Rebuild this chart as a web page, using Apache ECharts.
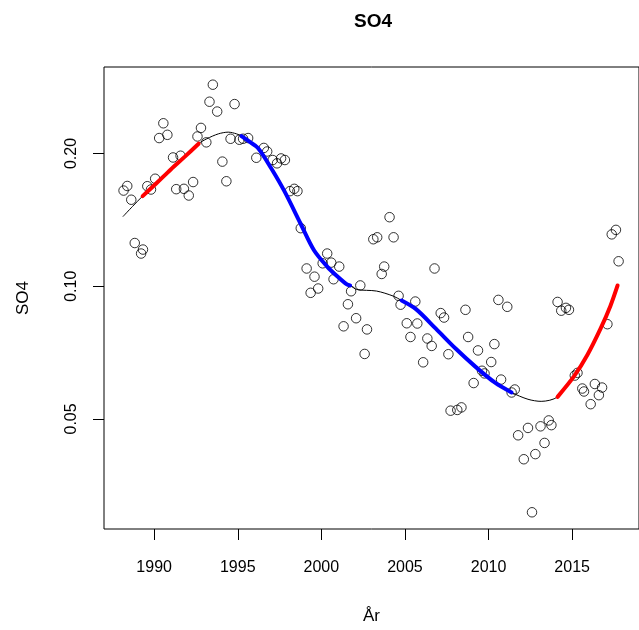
<!DOCTYPE html>
<html>
<head>
<meta charset="utf-8">
<script src="https://cdn.jsdelivr.net/npm/echarts@6/dist/echarts.min.js"></script>
<style>
html,body{margin:0;padding:0;background:#fff;}
#chart{width:639px;height:630px;}
</style>
</head>
<body>
<div id="chart"></div>
<script>
// Observations (year, SO4)
const years = [1988.17,1988.39,1988.63,1988.84,1989.22,1989.33,1989.59,1989.81,1990.06,1990.30,
1990.55,1990.79,1991.13,1991.32,1991.58,1991.78,1992.07,1992.33,1992.59,1992.80,
1993.12,1993.31,1993.51,1993.77,1994.08,1994.32,1994.57,1994.81,1995.10,1995.32,
1995.62,1996.11,1996.56,1996.76,1997.09,1997.35,1997.59,1997.82,1998.12,1998.38,
1998.57,1998.77,1999.12,1999.36,1999.59,1999.81,2000.08,2000.35,2000.59,2000.73,
2001.07,2001.33,2001.59,2001.78,2002.08,2002.33,2002.59,2002.73,2003.11,2003.34,
2003.61,2003.76,2004.08,2004.32,2004.62,2004.74,2005.11,2005.33,2005.62,2005.74,
2006.09,2006.34,2006.60,2006.77,2007.14,2007.34,2007.60,2007.73,2008.13,2008.38,
2008.62,2008.78,2009.11,2009.37,2009.61,2009.76,2010.16,2010.35,2010.59,2010.75,
2011.12,2011.38,2011.57,2011.77,2012.11,2012.36,2012.60,2012.80,2013.11,2013.35,
2013.60,2013.76,2014.13,2014.35,2014.63,2014.81,2015.16,2015.32,2015.61,2015.71,
2016.11,2016.36,2016.60,2016.79,2017.11,2017.37,2017.62,2017.78];
const so4 = [0.1648,0.1688,0.1571,0.1253,0.1186,0.1211,0.1686,0.1657,0.1753,0.2168,
0.2342,0.2205,0.1959,0.1660,0.1977,0.1663,0.1606,0.1723,0.2186,0.2286,
0.2120,0.2621,0.2865,0.2490,0.1917,0.1730,0.2160,0.2589,0.2149,0.2160,
0.2168,0.1956,0.2059,0.2021,0.1933,0.1900,0.1949,0.1933,0.1643,0.1663,
0.1643,0.1354,0.1097,0.0966,0.1051,0.0988,0.1127,0.1186,0.1131,0.1037,
0.1108,0.0811,0.0910,0.0974,0.0846,0.1004,0.0702,0.0798,0.1278,0.1291,
0.1066,0.1108,0.1434,0.1291,0.0951,0.0908,0.0824,0.0767,0.0923,0.0823,
0.0672,0.0761,0.0732,0.1097,0.0869,0.0849,0.0701,0.0522,0.0524,0.0531,
0.0884,0.0767,0.0603,0.0715,0.0643,0.0634,0.0673,0.0739,0.0931,0.0614,
0.0898,0.0574,0.0583,0.0459,0.0405,0.0477,0.0307,0.0416,0.0481,0.0441,
0.0496,0.0484,0.0921,0.0880,0.0893,0.0884,0.0627,0.0636,0.0586,0.0577,
0.0540,0.0600,0.0566,0.0589,0.0820,0.1311,0.1342,0.1139];

// Smoothed trend
const trendYears = [1988.13,1988.70,1989.31,1990.15,1990.98,1991.82,1992.66,1993.15,1993.84,1994.43,
1994.93,1995.22,1995.70,1996.21,1997.00,1997.79,1998.77,1999.56,2000.35,2000.95,
2001.53,2001.72,2002.12,2003.30,2004.29,2004.80,2005.66,2006.85,2008.03,2009.21,
2010.39,2011.38,2012.36,2013.15,2014.13,2015.12,2015.91,2016.70,2017.29,2017.72];
const trendValues = [0.1438,0.1516,0.1601,0.1714,0.1838,0.1965,0.2105,0.2160,0.2216,0.2236,
0.2216,0.2190,0.2127,0.2059,0.1852,0.1643,0.1384,0.1207,0.1108,0.1053,
0.1009,0.1004,0.0983,0.0975,0.0950,0.0928,0.0887,0.0801,0.0722,0.0657,
0.0604,0.0574,0.0554,0.0548,0.0561,0.0625,0.0698,0.0801,0.0902,0.1004];

// Periods of significant change
const increasePeriods = [[1989.31,1992.66],[2014.13,2017.72]];
const decreasePeriods = [[1995.22,2001.72],[2004.80,2011.38]];

// Ticks
const xTicks = [1990,1995,2000,2005,2010,2015];
const yTicks = [0.05,0.10,0.20];

const L = v => Math.log2(v);
const scatterData = years.map((y,i)=>[y, L(so4[i])]);
const trendData = trendYears.map((y,i)=>[y, L(trendValues[i])]);
function segment(p){
  return trendYears.map((y,i)=>[y, L(trendValues[i])]).filter(d => d[0] >= p[0]-1e-6 && d[0] <= p[1]+1e-6);
}
const font = 'Liberation Sans, Arial, Helvetica, sans-serif';
const series = [
  {type:'scatter', data:scatterData, symbol:'circle', symbolSize:9.5,
   itemStyle:{color:'rgba(0,0,0,0)', borderColor:'#000', borderWidth:1}, z:1, silent:true},
  {type:'line', data:trendData, showSymbol:false, smooth:0.3,
   lineStyle:{color:'#000', width:1}, z:2, silent:true}
];
increasePeriods.forEach(p=>series.push({type:'line', data:segment(p), showSymbol:false, smooth:0.3,
   lineStyle:{color:'#ff0000', width:4, cap:'round'}, z:3, silent:true}));
decreasePeriods.forEach(p=>series.push({type:'line', data:segment(p), showSymbol:false, smooth:0.3,
   lineStyle:{color:'#0000ff', width:4, cap:'round'}, z:3, silent:true}));

const yMin = L(0.10) - (537-290)/135;
const yMax = L(0.10) + (290-67)/135;

const chart = echarts.init(document.getElementById('chart'), null, {renderer:'canvas'});
chart.setOption({
  animation:false,
  backgroundColor:'#fff',
  title:{text:'SO4', left:368, top:7, textAlign:'center',
    textStyle:{fontFamily:font, fontSize:19, fontWeight:'bold', color:'#000'}},
  grid:{left:104, top:67, width:541, height:470, show:true, borderColor:'#000', borderWidth:1, backgroundColor:'transparent'},
  xAxis:{type:'value', min:1987, max:2019,
    axisLine:{show:false},
    splitLine:{show:false},
    axisTick:{show:true, inside:false, length:11, lineStyle:{color:'#000'}, customValues:xTicks},
    axisLabel:{show:true, margin:31, fontFamily:font, fontSize:16, color:'#000', customValues:xTicks,
      formatter:v=>String(v)},
    name:'År', nameLocation:'middle', nameGap:79,
    nameTextStyle:{fontFamily:font, fontSize:17, color:'#000'}
  },
  yAxis:{type:'value', min:yMin, max:yMax,
    axisLine:{show:false},
    splitLine:{show:false},
    axisTick:{show:true, inside:false, length:11, lineStyle:{color:'#000'}, customValues:yTicks.map(L)},
    axisLabel:{show:true, rotate:90, margin:24, fontFamily:font, fontSize:16, color:'#000',
      customValues:yTicks.map(L), formatter:v=>Math.pow(2,v).toFixed(2)},
    name:'SO4', nameLocation:'middle', nameGap:72, nameRotate:90,
    nameTextStyle:{fontFamily:font, fontSize:17, color:'#000'}
  },
  series:series
});
</script>
</body>
</html>
